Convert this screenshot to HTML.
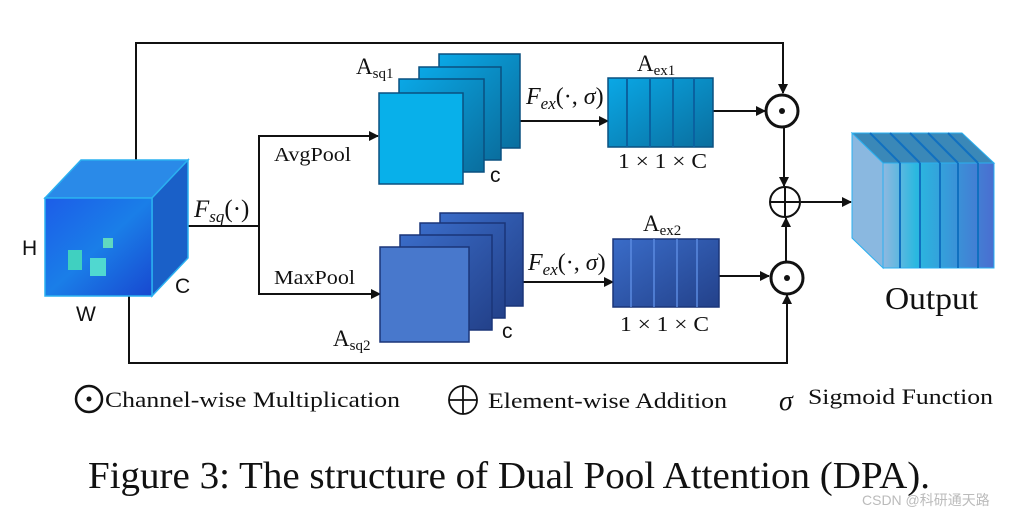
<!DOCTYPE html>
<html><head><meta charset="utf-8"><style>
html,body{margin:0;padding:0;background:#fff;width:1035px;height:519px;overflow:hidden}
svg{display:block}
text{font-family:"Liberation Serif",serif;fill:#111}
.s{font-family:"Liberation Sans",sans-serif}
</style></head><body>
<svg width="1035" height="519" viewBox="0 0 1035 519">
<defs>
<marker id="a" markerWidth="10" markerHeight="10" refX="9" refY="5" orient="auto" markerUnits="userSpaceOnUse"><path d="M0,0 L10,5 L0,10 z" fill="#111"/></marker>
<linearGradient id="g1" x1="0" y1="0" x2="1" y2="1"><stop offset="0" stop-color="#0aa8e6"/><stop offset="1" stop-color="#0a6e9e"/></linearGradient>
<linearGradient id="g2" x1="0" y1="0" x2="1" y2="1"><stop offset="0" stop-color="#3a6cc8"/><stop offset="1" stop-color="#23418a"/></linearGradient>
<linearGradient id="g3" x1="0" y1="0" x2="1" y2="0"><stop offset="0" stop-color="#8fb8e0"/><stop offset="0.3" stop-color="#2ab8e0"/><stop offset="1" stop-color="#4a6ed0"/></linearGradient>
<linearGradient id="gc" x1="0" y1="0" x2="1" y2="1"><stop offset="0" stop-color="#1c5de8"/><stop offset="0.5" stop-color="#1a7ee8"/><stop offset="1" stop-color="#1848d0"/></linearGradient>
</defs>
<g stroke="#111" stroke-width="2" fill="none">
<polyline points="136,160 136,43 783,43 783,93" marker-end="url(#a)"/>
<polyline points="129,296 129,363 787,363 787,295" marker-end="url(#a)"/>
<line x1="188" y1="226" x2="259" y2="226"/>
<polyline points="378,136 259,136 259,294 379,294" marker-end="none"/>
<line x1="300" y1="136" x2="378" y2="136" marker-end="url(#a)"/>
<line x1="300" y1="294" x2="380" y2="294" marker-end="url(#a)"/>
<line x1="520" y1="121" x2="608" y2="121" marker-end="url(#a)"/>
<line x1="522" y1="282" x2="613" y2="282" marker-end="url(#a)"/>
<line x1="713" y1="111" x2="765" y2="111" marker-end="url(#a)"/>
<line x1="719" y1="276" x2="769" y2="276" marker-end="url(#a)"/>
<line x1="784" y1="128" x2="784" y2="186" marker-end="url(#a)"/>
<line x1="786" y1="262" x2="786" y2="218" marker-end="url(#a)"/>
<line x1="801" y1="202" x2="851" y2="202" marker-end="url(#a)"/>
</g>
<polygon points="45,198 81,160 188,160 152,198" fill="#2a8ae8" stroke="#2ab0f0" stroke-width="1.5"/>
<polygon points="152,198 188,160 188,258 152,296" fill="#1a60c8" stroke="#2ab0f0" stroke-width="1.5"/>
<rect x="45" y="198" width="107" height="98" fill="url(#gc)" stroke="#2ab0f0" stroke-width="1.5"/>
<rect x="68" y="250" width="14" height="20" fill="#40d0c0"/><rect x="90" y="258" width="16" height="18" fill="#50d8d0"/><rect x="103" y="238" width="10" height="10" fill="#60d8c0"/>
<g stroke="#0a5080" stroke-width="1.5">
<rect x="439" y="54" width="81" height="94" fill="url(#g1)"/>
<rect x="419" y="67" width="82" height="93" fill="url(#g1)"/>
<rect x="399" y="79" width="85" height="93" fill="url(#g1)"/>
<rect x="379" y="93" width="84" height="91" fill="#08b0ea"/>
</g>
<g stroke="#1a3578" stroke-width="1.5">
<rect x="440" y="213" width="83" height="93" fill="url(#g2)"/>
<rect x="420" y="223" width="85" height="95" fill="url(#g2)"/>
<rect x="400" y="235" width="92" height="95" fill="url(#g2)"/>
<rect x="380" y="247" width="89" height="95" fill="#4878cc"/>
</g>
<rect x="608" y="78" width="105" height="69" fill="url(#g1)" stroke="#0a5080" stroke-width="1.5"/>
<g stroke="#0a62a0" stroke-width="2"><line x1="627" y1="78" x2="627" y2="147"/><line x1="650" y1="78" x2="650" y2="147"/><line x1="673" y1="78" x2="673" y2="147"/><line x1="694" y1="78" x2="694" y2="147"/></g>
<rect x="613" y="239" width="106" height="68" fill="url(#g2)" stroke="#1a3578" stroke-width="1.5"/>
<g stroke="#5a8ae0" stroke-width="1.5"><line x1="631" y1="239" x2="631" y2="307"/><line x1="654" y1="239" x2="654" y2="307"/><line x1="677" y1="239" x2="677" y2="307"/><line x1="697" y1="239" x2="697" y2="307"/></g>
<g stroke="#111" stroke-width="3" fill="#fff">
<circle cx="782" cy="111" r="16"/><circle cx="787" cy="278" r="16"/>
</g>
<circle cx="782" cy="111" r="3" fill="#111"/><circle cx="787" cy="278" r="3" fill="#111"/>
<g stroke="#111" stroke-width="2" fill="#fff"><circle cx="785" cy="202" r="15"/></g>
<g stroke="#111" stroke-width="2"><line x1="770" y1="202" x2="800" y2="202"/><line x1="785" y1="187" x2="785" y2="217"/></g>
<polygon points="852,133 962,133 994,163 883,163" fill="#3a88b8" stroke="#2ab0f0"/>
<polygon points="852,133 883,163 883,268 852,238" fill="#8ab8e0" stroke="#2ab0f0"/>
<rect x="883" y="163" width="111" height="105" fill="url(#g3)" stroke="#2ab0f0"/>
<g stroke="#1070c0" stroke-width="2"><line x1="900" y1="163" x2="900" y2="268"/><line x1="920" y1="163" x2="920" y2="268"/><line x1="940" y1="163" x2="940" y2="268"/><line x1="958" y1="163" x2="958" y2="268"/><line x1="978" y1="163" x2="978" y2="268"/>
<line x1="870" y1="133" x2="900" y2="163"/><line x1="890" y1="133" x2="920" y2="163"/><line x1="910" y1="133" x2="940" y2="163"/><line x1="928" y1="133" x2="958" y2="163"/><line x1="948" y1="133" x2="978" y2="163"/></g>
<text class="s" x="22" y="255" font-size="21">H</text>
<text class="s" x="76" y="321" font-size="21">W</text>
<text class="s" x="175" y="293" font-size="21">C</text>
<text class="s" x="490" y="182" font-size="21">c</text>
<text class="s" x="502" y="338" font-size="21">c</text>
<text x="194" y="217" font-size="25" font-style="italic">F<tspan font-size="17" dy="5">sq</tspan><tspan font-style="normal" dy="-5">(·)</tspan></text>
<text x="274" y="161" font-size="20" textLength="77" lengthAdjust="spacingAndGlyphs">AvgPool</text>
<text x="274" y="284" font-size="20" textLength="81" lengthAdjust="spacingAndGlyphs">MaxPool</text>
<text x="356" y="74" font-size="23">A<tspan font-size="15" dy="4">sq1</tspan></text>
<text x="333" y="346" font-size="23">A<tspan font-size="15" dy="4">sq2</tspan></text>
<text x="637" y="71" font-size="23">A<tspan font-size="15" dy="4">ex1</tspan></text>
<text x="643" y="231" font-size="23">A<tspan font-size="15" dy="4">ex2</tspan></text>
<text x="526" y="104" font-size="24" font-style="italic">F<tspan font-size="17" dy="5">ex</tspan><tspan font-style="normal" dy="-5">(·, </tspan>σ<tspan font-style="normal">)</tspan></text>
<text x="528" y="270" font-size="24" font-style="italic">F<tspan font-size="17" dy="5">ex</tspan><tspan font-style="normal" dy="-5">(·, </tspan>σ<tspan font-style="normal">)</tspan></text>
<text x="618" y="168" font-size="21" textLength="89" lengthAdjust="spacingAndGlyphs">1 × 1 × C</text>
<text x="620" y="331" font-size="21" textLength="89" lengthAdjust="spacingAndGlyphs">1 × 1 × C</text>
<text x="885" y="309" font-size="32" textLength="93" lengthAdjust="spacingAndGlyphs">Output</text>
<circle cx="89" cy="399" r="13" stroke="#111" stroke-width="2.5" fill="none"/><circle cx="89" cy="399" r="2.5" fill="#111"/>
<text x="105" y="407" font-size="22" textLength="295" lengthAdjust="spacingAndGlyphs">Channel-wise Multiplication</text>
<circle cx="463" cy="400" r="14" stroke="#111" stroke-width="1.8" fill="none"/>
<line x1="449" y1="400" x2="477" y2="400" stroke="#111" stroke-width="1.8"/><line x1="463" y1="386" x2="463" y2="414" stroke="#111" stroke-width="1.8"/>
<text x="488" y="408" font-size="22" textLength="239" lengthAdjust="spacingAndGlyphs">Element-wise Addition</text>
<text x="779" y="410" font-size="28" font-style="italic">σ</text>
<text x="808" y="404" font-size="22" textLength="185" lengthAdjust="spacingAndGlyphs">Sigmoid Function</text>
<text x="88" y="488" font-size="38" textLength="842" lengthAdjust="spacingAndGlyphs">Figure 3: The structure of Dual Pool Attention (DPA).</text>
<text x="862" y="505" font-size="14" style="fill:#bbb;font-family:'Liberation Sans','Noto Sans CJK SC',sans-serif">CSDN @科研通天路</text>
</svg>
</body></html>
